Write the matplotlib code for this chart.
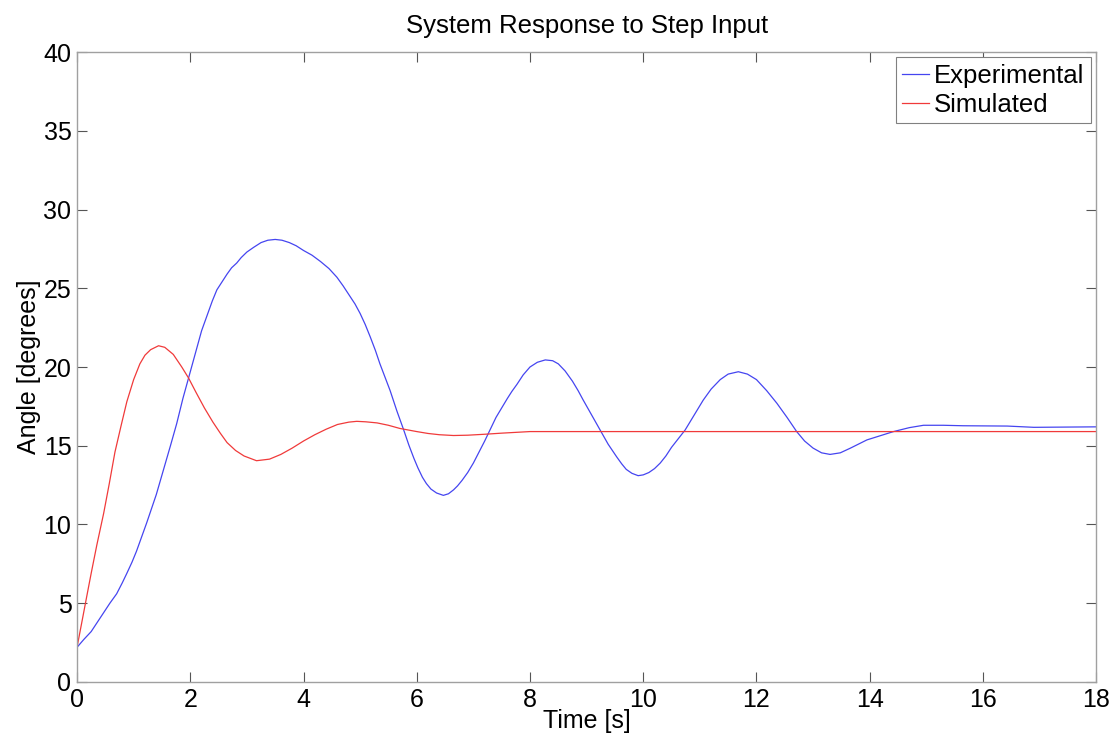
import matplotlib
matplotlib.use("Agg")
import matplotlib.pyplot as plt

t_exp = [0, 0.12, 0.25, 0.36, 0.47, 0.58, 0.7, 0.8, 0.88, 0.97, 1.05, 1.14, 1.23,
         1.4, 1.53, 1.65, 1.76, 1.87, 1.97, 2.11, 2.2, 2.3, 2.39, 2.47, 2.56, 2.65,
         2.73, 2.82, 2.9, 3.0, 3.12, 3.25, 3.37, 3.5, 3.62, 3.75, 3.87, 4.0, 4.15,
         4.3, 4.45, 4.59, 4.7, 4.82, 4.91, 5.0, 5.09, 5.18, 5.27, 5.35, 5.44, 5.53,
         5.65, 5.77, 5.86, 5.95, 6.02, 6.1, 6.17, 6.25, 6.35, 6.47, 6.56, 6.65, 6.72,
         6.8, 6.9, 7.0, 7.1, 7.2, 7.3, 7.4, 7.5, 7.6, 7.68, 7.77, 7.88, 8.0, 8.13,
         8.27, 8.4, 8.5, 8.62, 8.75, 8.85, 8.94, 9.09, 9.24, 9.38, 9.53, 9.62, 9.7,
         9.8, 9.91, 10.0, 10.1, 10.2, 10.3, 10.4, 10.5, 10.62, 10.74, 10.9, 11.06,
         11.2, 11.36, 11.5, 11.68, 11.84, 12.0, 12.18, 12.36, 12.54, 12.71, 12.85,
         13.0, 13.15, 13.3, 13.48, 13.66, 13.8, 13.95, 14.2, 14.42, 14.7, 14.95,
         15.3, 15.65, 16.43, 16.9, 17.8, 18.0]
y_exp = [2.2, 2.7, 3.2, 3.8, 4.4, 5.0, 5.6, 6.3, 6.9, 7.6, 8.3, 9.2, 10.1,
         11.9, 13.5, 15.0, 16.4, 18.0, 19.3, 21.1, 22.3, 23.3, 24.2, 24.9, 25.4, 25.9,
         26.3, 26.6, 26.95, 27.3, 27.6, 27.9, 28.05, 28.1, 28.05, 27.9, 27.7, 27.4, 27.1,
         26.7, 26.25, 25.7, 25.15, 24.5, 24.0, 23.4, 22.7, 21.9, 21.05, 20.2, 19.35, 18.5,
         17.2, 16.0, 15.05, 14.2, 13.6, 13.0, 12.6, 12.25, 12.0, 11.85, 11.95, 12.2, 12.45,
         12.8, 13.3, 13.9, 14.6, 15.3, 16.05, 16.8, 17.4, 18.0, 18.45, 18.9, 19.5, 20.0, 20.3,
         20.45, 20.4, 20.2, 19.75, 19.1, 18.5, 17.9, 16.95, 16.0, 15.1, 14.3, 13.85, 13.5,
         13.25, 13.1, 13.15, 13.3, 13.55, 13.9, 14.35, 14.9, 15.45, 16.0, 16.95, 17.9,
         18.6, 19.2, 19.55, 19.7, 19.55, 19.2, 18.5, 17.7, 16.8, 15.9, 15.3,
         14.85, 14.55, 14.45, 14.55, 14.85, 15.1, 15.37, 15.65, 15.9, 16.15, 16.3,
         16.3, 16.27, 16.25, 16.17, 16.2, 16.2]

# Simulated response
t_sim = [0, 0.08, 0.17, 0.25, 0.35, 0.47, 0.57, 0.67, 0.78, 0.88, 1.0, 1.11, 1.2,
         1.3, 1.44, 1.55, 1.7, 1.85, 1.97, 2.1, 2.25, 2.4, 2.53, 2.65, 2.8, 2.95,
         3.17, 3.4, 3.6, 3.8, 4.0, 4.2, 4.4, 4.6, 4.8, 4.94, 5.1, 5.3, 5.5, 5.7,
         5.85, 6.0, 6.2, 6.4, 6.65, 6.9, 7.2, 7.5, 8.0, 9.0, 18.0]
y_sim = [2.2, 3.7, 5.4, 6.9, 8.7, 10.7, 12.6, 14.6, 16.3, 17.8, 19.2, 20.2, 20.75,
         21.1, 21.35, 21.25, 20.8, 20.0, 19.3, 18.4, 17.4, 16.5, 15.8, 15.2, 14.7, 14.35,
         14.05, 14.15, 14.45, 14.85, 15.3, 15.7, 16.05, 16.35, 16.5, 16.55, 16.52, 16.45,
         16.3, 16.1, 16.0, 15.9, 15.78, 15.7, 15.65, 15.67, 15.73, 15.8, 15.9, 15.9, 15.9]

xticks = [0, 2, 4, 6, 8, 10, 12, 14, 16, 18]
yticks = [0, 5, 10, 15, 20, 25, 30, 35, 40]

plt.rcParams['font.family'] = ['Liberation Sans', 'DejaVu Sans']

fig = plt.figure(figsize=(11.13, 7.36), dpi=100)
ax = fig.add_axes([0.0692, 0.0734, 0.9157, 0.8559])

ax.plot(t_exp, y_exp, color='#4545f0', lw=0.9, label='Experimental')
ax.plot(t_sim, y_sim, color='#f03a3a', lw=0.9, label='Simulated')

ax.set_xlim(0, 18)
ax.set_ylim(0, 40)
ax.set_xticks(xticks)
ax.set_yticks(yticks)
ax.tick_params(direction='in', length=7, width=0.8, color='#555555',
               labelsize=18, top=True, right=True, pad=4)
for s in ax.spines.values():
    s.set_color('#a0a0a0')
    s.set_linewidth(1.0)

ax.set_title('System Response to Step Input', fontsize=18.5, pad=14)
ax.set_xlabel('Time [s]', fontsize=18, labelpad=-2)
ax.set_ylabel('Angle [degrees]', fontsize=18, labelpad=2)

leg = ax.legend(loc='upper right', fontsize=18.5, fancybox=False, framealpha=1,
                edgecolor='#808080', borderaxespad=0.2, borderpad=0.25,
                handlelength=1.05, handletextpad=0.2, labelspacing=0.2)
leg.get_frame().set_linewidth(0.8)

fig.savefig('out.png', dpi=100)
